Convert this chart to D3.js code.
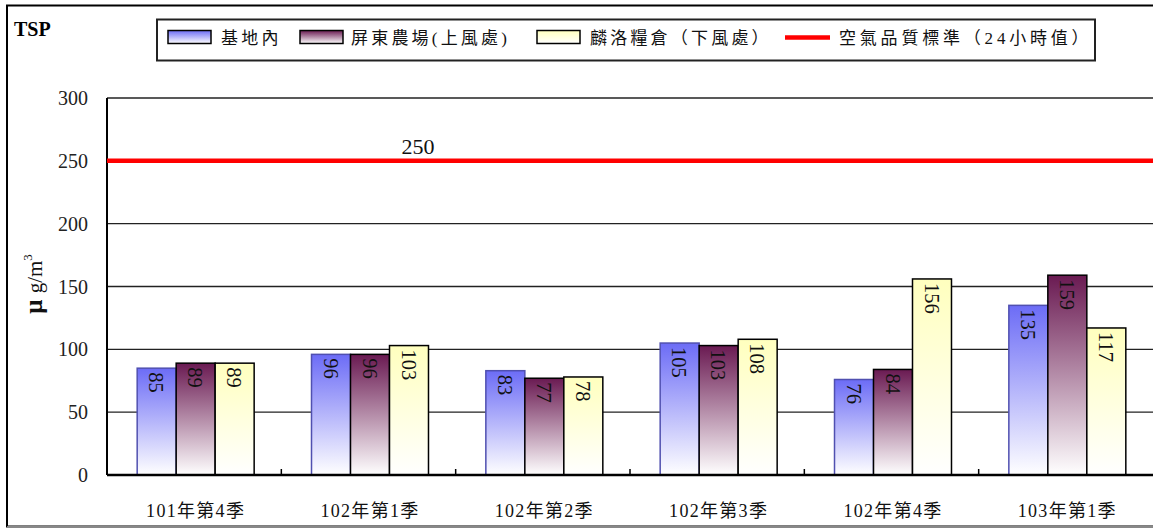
<!DOCTYPE html>
<html><head><meta charset="utf-8">
<script src="https://cdn.jsdelivr.net/npm/d3@7"></script>
<style>
body{margin:0;background:#fff;}
text{font-family:"Liberation Serif","Noto Sans CJK TC",serif;}
</style></head>
<body><svg id="c" width="1153" height="528"></svg>
<script>
const categories = ["101年第4季","102年第1季","102年第2季","102年第3季","102年第4季","103年第1季"];
const seriesNames = ["基地內","屏東農場(上風處)","麟洛糧倉（下風處）"];
const siteBase = [85, 96, 83, 105, 76, 135];
const sitePingtung = [89, 96, 77, 103, 84, 159];
const siteLinluo = [89, 103, 78, 108, 156, 117];
const standardName = "空氣品質標準（24小時值）";
const standardValue = 250;
const yTicks = [0, 50, 100, 150, 200, 250, 300];

const seriesValues = [siteBase, sitePingtung, siteLinluo];
const colors = [["#6c6cf6","#ffffff"],["#6a1a52","#ffffff"],["#ffffbe","#ffffff"]];
const strokes = ["#5050b0","#000","#000"];

const svg = d3.select("#c");
const pLeft = 107, pRight = 1153, pTop = 98, pBottom = 475;

const defs = svg.append("defs");
colors.forEach((c,i)=>{
  const g = defs.append("linearGradient").attr("id","g"+i).attr("x1",0).attr("y1",0).attr("x2",0).attr("y2",1);
  g.append("stop").attr("offset","0%").attr("stop-color",c[0]);
  g.append("stop").attr("offset","100%").attr("stop-color",c[1]);
});

// outer frame
svg.append("rect").attr("x",7).attr("y",5.5).attr("width",1160).attr("height",521)
  .attr("fill","none").attr("stroke","#000").attr("stroke-width",2);
svg.append("line").attr("x1",7).attr("x2",1153).attr("y1",527).attr("y2",527).attr("stroke","#888").attr("stroke-width",2);

const y = d3.scaleLinear().domain([0,300]).range([pBottom, pTop]);
const x0 = d3.scaleBand().domain(categories).range([pLeft+1.5,pRight+1.5]).paddingInner(0.329).paddingOuter(0.1645);
const x1 = d3.scaleBand().domain(d3.range(3)).range([0, x0.bandwidth()]);

// grid
svg.append("g").selectAll("line").data(yTicks.filter(t=>t>0)).join("line")
  .attr("x1",pLeft).attr("x2",pRight).attr("y1",d=>y(d)).attr("y2",d=>y(d))
  .attr("stroke","#222").attr("stroke-width",1.3);

// y tick labels
svg.append("g").selectAll("text").data(yTicks).join("text")
  .attr("x",88).attr("y",d=>y(d)).attr("dy","0.35em").attr("text-anchor","end")
  .attr("font-size",20).attr("fill","#222").text(d=>d);

// bars
const groups = svg.append("g").selectAll("g").data(categories).join("g")
  .attr("transform",d=>`translate(${x0(d)},0)`);
groups.each(function(cat,ci){
  const g = d3.select(this);
  seriesValues.forEach((vals,si)=>{
    const v = vals[ci];
    g.append("rect").attr("x",x1(si)).attr("y",y(v)).attr("width",x1.bandwidth()).attr("height",y(0)-y(v))
      .attr("fill",`url(#g${si})`).attr("stroke",strokes[si]).attr("stroke-width",1.5);
    const cx = x1(si)+x1.bandwidth()/2, ty = y(v)+4;
    g.append("text").attr("transform",`translate(${cx},${ty}) rotate(90)`)
      .attr("dy","0.35em").attr("font-size",20.5).attr("fill","#111").text(v);
  });
});

// axes lines
svg.append("line").attr("x1",pLeft).attr("x2",pLeft).attr("y1",pTop).attr("y2",pBottom).attr("stroke","#000").attr("stroke-width",2);
svg.append("line").attr("x1",pLeft).attr("x2",pRight).attr("y1",pBottom).attr("y2",pBottom).attr("stroke","#000").attr("stroke-width",2.5);
// category boundary ticks
const step = x0.step();
svg.append("g").selectAll("line").data(d3.range(1,categories.length)).join("line")
  .attr("x1",d=>pLeft+d*step).attr("x2",d=>pLeft+d*step).attr("y1",pBottom).attr("y2",pBottom-6)
  .attr("stroke","#000").attr("stroke-width",1.5);

// x labels
svg.append("g").selectAll("text").data(categories).join("text")
  .attr("x",d=>x0(d)+x0.bandwidth()/2).attr("y",517).attr("text-anchor","middle")
  .attr("font-size",18).attr("letter-spacing",1.3).attr("fill","#111").text(d=>d);

// standard line
svg.append("line").attr("x1",pLeft).attr("x2",pRight).attr("y1",y(standardValue)).attr("y2",y(standardValue))
  .attr("stroke","#ff0000").attr("stroke-width",4.5);
svg.append("text").attr("x",418).attr("y",y(standardValue)-7).attr("text-anchor","middle")
  .attr("font-size",22).attr("fill","#111").text(standardValue);

// title
svg.append("text").attr("x",14).attr("y",36).attr("font-size",20).attr("font-weight","bold").text("TSP");

// y label
const yl = svg.append("text").attr("transform","translate(42,284) rotate(-90)").attr("text-anchor","middle").attr("fill","#111");
yl.append("tspan").attr("font-size",25).attr("font-weight","bold").text("μ ");
yl.append("tspan").attr("font-size",21).text("g/m");
yl.append("tspan").attr("font-size",13).attr("dy",-10).text("3");

// legend
svg.append("rect").attr("x",157).attr("y",19.5).attr("width",938).attr("height",41)
  .attr("fill","#fff").attr("stroke","#222").attr("stroke-width",2);
const legX = [168, 300, 537];
const textX = [221, 351, 590];
seriesNames.forEach((n,i)=>{
  svg.append("rect").attr("x",legX[i]).attr("y",30.5).attr("width",43).attr("height",13)
    .attr("fill",`url(#g${i})`).attr("stroke","#000").attr("stroke-width",1.5);
  svg.append("text").attr("x",textX[i]).attr("y",44).attr("font-size",17).attr("letter-spacing",3.2).attr("fill","#111").text(n);
});
svg.append("line").attr("x1",785).attr("x2",830).attr("y1",37.5).attr("y2",37.5).attr("stroke","#ff0000").attr("stroke-width",4.5);
svg.append("text").attr("x",839).attr("y",44).attr("font-size",17).attr("letter-spacing",3.8).attr("fill","#111").text(standardName);
</script></body></html>
